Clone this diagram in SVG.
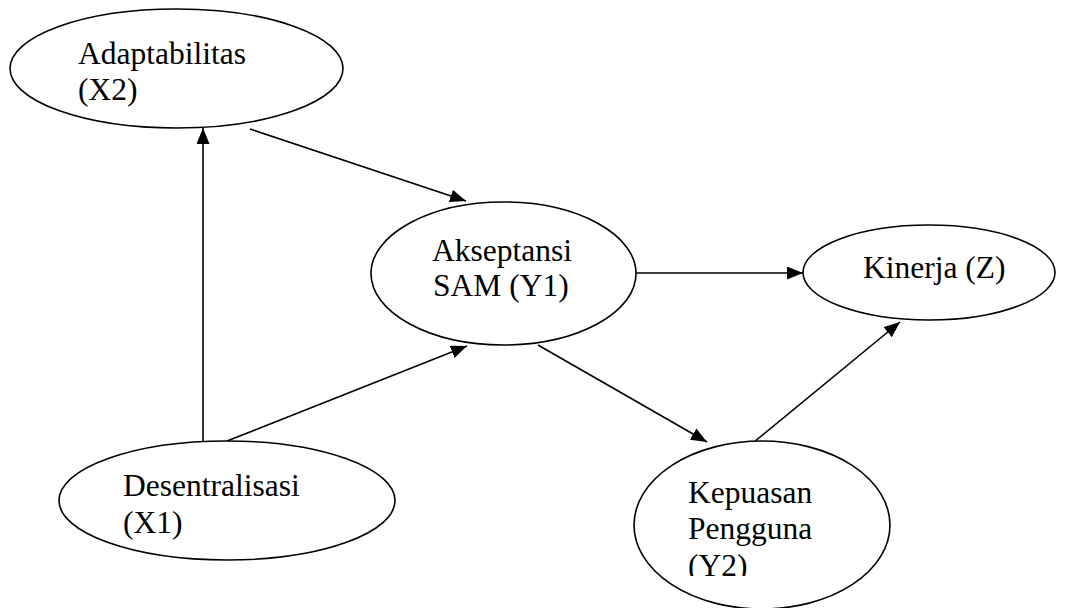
<svg xmlns="http://www.w3.org/2000/svg" width="1065" height="608" viewBox="0 0 1065 608">
<style>
.node ellipse{fill:#fff;stroke:#000;stroke-width:1.6}
.node text{font-family:"Liberation Serif","Times New Roman",serif;font-size:31.5px;fill:#000}
.edge line{stroke:#000;stroke-width:1.6;fill:none}
</style>
<defs>
<marker id="arr" markerUnits="userSpaceOnUse" markerWidth="18" markerHeight="14" refX="16" refY="6.5" orient="auto">
<path d="M0,0 L16,6.5 L0,13 Z" fill="#000"/>
</marker>
<clipPath id="clipY2"><rect x="600" y="440" width="300" height="136"/></clipPath>
</defs>
<rect width="1065" height="608" fill="#fff"/>
<g id="connectors" class="edge">
<line x1="203" y1="441" x2="203" y2="128" marker-end="url(#arr)"/>
<line x1="250" y1="129" x2="466" y2="201" marker-end="url(#arr)"/>
<line x1="227" y1="441" x2="467" y2="346" marker-end="url(#arr)"/>
<line x1="636" y1="273" x2="803" y2="273" marker-end="url(#arr)"/>
<line x1="538" y1="345" x2="707" y2="442" marker-end="url(#arr)"/>
<line x1="754" y1="442" x2="900" y2="322" marker-end="url(#arr)"/>
</g>
<g id="node-adaptabilitas" class="node">
<ellipse cx="176.5" cy="68.5" rx="166.5" ry="59.5"/>
<text x="78" y="64">Adaptabilitas</text>
<text x="78" y="100">(X2)</text>
</g>
<g id="node-akseptansi" class="node">
<ellipse cx="503.5" cy="273.5" rx="132.5" ry="71.5"/>
<text x="432" y="261">Akseptansi</text>
<text x="433" y="296">SAM (Y1)</text>
</g>
<g id="node-kinerja" class="node">
<ellipse cx="929" cy="272.5" rx="126" ry="47.5"/>
<text x="863" y="278">Kinerja (Z)</text>
</g>
<g id="node-desentralisasi" class="node">
<ellipse cx="227" cy="500.5" rx="168" ry="59.5"/>
<text x="123" y="496">Desentralisasi</text>
<text x="123" y="533">(X1)</text>
</g>
<g id="node-kepuasan" class="node">
<ellipse cx="762" cy="525" rx="128" ry="84"/>
<g clip-path="url(#clipY2)">
<text x="688" y="503">Kepuasan</text>
<text x="688" y="539">Pengguna</text>
<text x="688" y="576">(Y2)</text>
</g>
</g>
</svg>
